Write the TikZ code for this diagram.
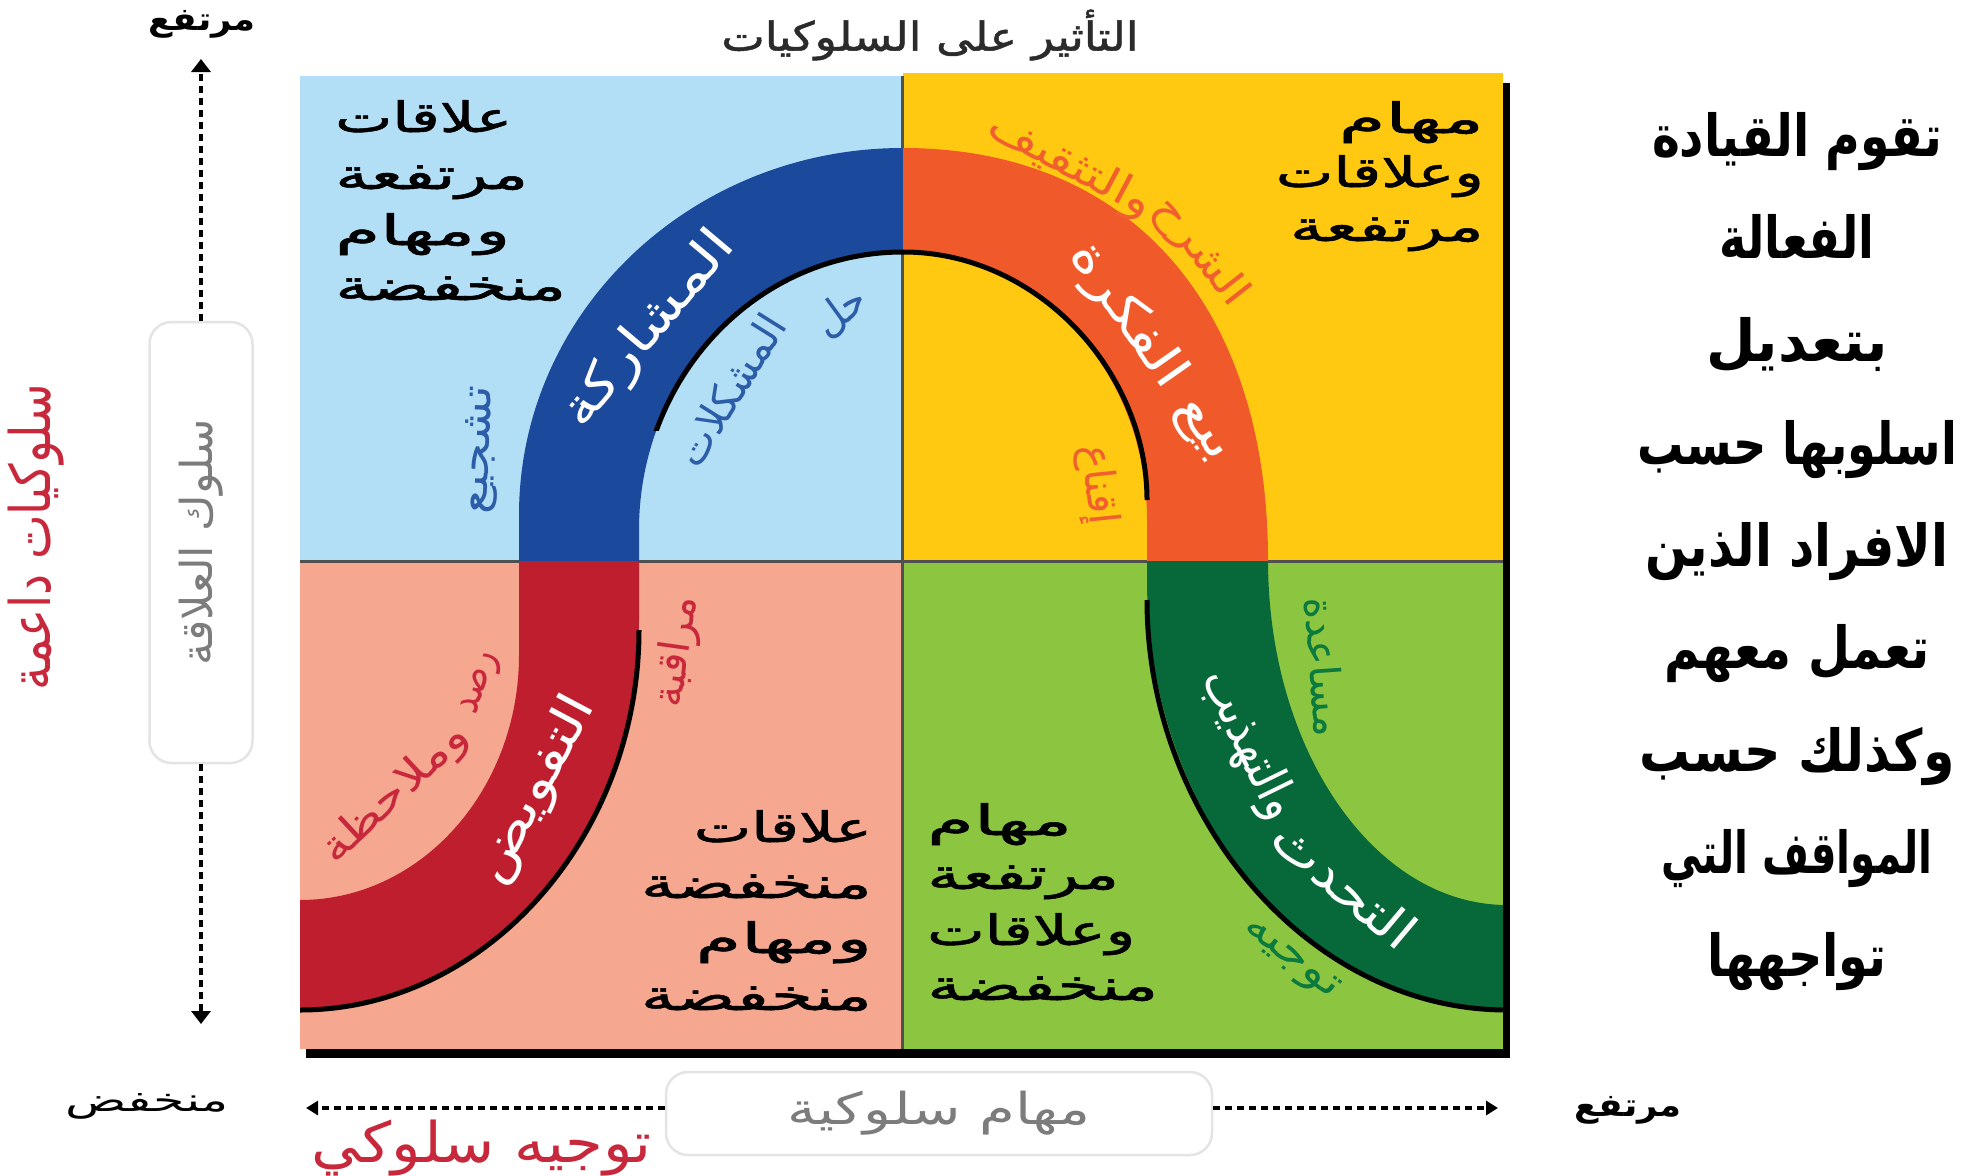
\documentclass[tikz,border=0pt]{standalone}
\usepackage{fontspec}
\usepackage{graphicx}
\usetikzlibrary{arrows.meta}
\TeXXeTstate=1
\newfontfamily\arf[Script=Arabic]{DejaVu Sans}
\newfontfamily\arq[Script=Arabic,FakeBold=1.2]{DejaVu Sans}
\newcommand\fitw[2]{\resizebox{#1}{\height}{#2}}
\definecolor{qblue}{HTML}{B2DEF6}
\definecolor{qyellow}{HTML}{FFC912}
\definecolor{qsalmon}{HTML}{F6A78F}
\definecolor{qgreen}{HTML}{8CC540}
\definecolor{bblue}{HTML}{1B499B}
\definecolor{borange}{HTML}{F05A2B}
\definecolor{bred}{HTML}{BE1E2D}
\definecolor{bgreen}{HTML}{07693A}
\definecolor{tblue}{HTML}{2C5DA9}
\definecolor{torange}{HTML}{F15F2E}
\definecolor{tred}{HTML}{C8283C}
\definecolor{tgreen}{HTML}{0A7A3E}
\definecolor{tgray}{HTML}{7C7C7C}
\definecolor{tdark}{HTML}{2B2B2B}
\definecolor{boxgray}{HTML}{E4E4E4}
\definecolor{divgray}{HTML}{505050}
\begin{document}
\begin{tikzpicture}[x=1pt,y=-1pt,
  qline/.style={inner sep=0pt, font=\arq\fontsize{42}{42}\selectfont, text=black},
  bandtxt/.style={inner sep=0pt, font=\arf\fontsize{50}{50}\selectfont, text=white},
  curvelbl/.style={inner sep=0pt, font=\arf\fontsize{42}{42}\selectfont},
  axlbl/.style={inner sep=0pt, font=\arf\bfseries\fontsize{32}{32}\selectfont, text=black},
  biglbl/.style={inner sep=0pt, font=\arf\fontsize{56}{56}\selectfont, text=tred},
  axbox/.style={draw=boxgray, line width=2.5pt, rounded corners=22pt, fill=white, inner sep=0pt, text=tgray, font=\arf\fontsize{44}{44}\selectfont},
  dashv/.style={line width=3.5pt, dash pattern=on 7pt off 5pt, -{Triangle[width=19pt,length=13pt]}},
  dashh/.style={line width=3.5pt, dash pattern=on 7pt off 5pt, -{Triangle[width=14pt,length=12pt]}},
  innerline/.style={line width=5pt, black},
  divline/.style={line width=3pt, color=divgray},
  rblock/.style={inner sep=0pt, font=\arf\bfseries\fontsize{58}{58}\selectfont, text=black},
]
\useasboundingbox (0,0) rectangle (1977,1175);
\fill[white] (0,0) rectangle (1977,1175);

% shadows
\fill[black] (1503,83) rectangle (1510,1058);
\fill[black] (306,1049) rectangle (1510,1058);

% quadrants
\fill[qblue] (300,76) rectangle (903,561);
\fill[qyellow] (903,73) rectangle (1503,561);
\fill[qsalmon] (300,561) rectangle (903,1049);
\fill[qgreen] (903,561) rectangle (1503,1049);
\draw[divline] (902,76) -- (902,1049);
\draw[divline] (300,561) -- (1503,561);

% band
\foreach \qx/\qy/\qw/\qh/\qc in {300/60/603/501/bblue, 903/60/600/501/borange, 300/561/603/488/bred, 903/561/600/488/bgreen}{
  \begin{scope}
    \clip (\qx,\qy) rectangle ++(\qw,\qh);
    \fill[\qc] (280,900) -- (300,900) .. controls (421,900) and (519,790) .. (519,655)
      -- (519,515) .. controls (519,312) and (691,148) .. (903,148)
      .. controls (1129,148) and (1268,305) .. (1268,560)
      .. controls (1268,751) and (1375,905) .. (1507,905)
      -- (1525,905) -- (1525,1010) -- (1507,1010)
      .. controls (1308,1010) and (1147,817) .. (1147,580)
      -- (1147,520) .. controls (1147,372) and (1038,252) .. (903,252)
      .. controls (757,252) and (639,376) .. (639,530)
      -- (639,620) .. controls (639,835) and (487,1010) .. (300,1010)
      -- (280,1010) -- cycle;
  \end{scope}
}
\begin{scope}
  \clip (300,60) rectangle (1503,1049);
  \draw[innerline] (1507,1010) .. controls (1308,1010) and (1147,817) .. (1147,600);
  \draw[innerline] (1147,500) .. controls (1147,372) and (1038,252) .. (903,252);
  \draw[innerline] (639,630) .. controls (639,835) and (487,1010) .. (300,1010);
\end{scope}
\begin{scope}
  \clip (300,60) rectangle (905,430);
  \draw[innerline] (903,252) .. controls (757,252) and (639,376) .. (639,530);
\end{scope}

% quadrant texts
\node[qline, anchor=base west] (tl1) at (335,132) {\fitw{177pt}{\beginR علاقات\endR}};
\node[qline, anchor=base west] (tl2) at (335,189) {\fitw{193pt}{\beginR مرتفعة\endR}};
\node[qline, anchor=base west] (tl3) at (335,245) {\fitw{175pt}{\beginR ومهام\endR}};
\node[qline, anchor=base west] (tl4) at (335,300) {\fitw{231pt}{\beginR منخفضة\endR}};
\node[qline, anchor=base east] (tr1) at (1484,133) {\fitw{145pt}{\beginR مهام\endR}};
\node[qline, anchor=base east] (tr2) at (1484,187) {\fitw{208pt}{\beginR وعلاقات\endR}};
\node[qline, anchor=base east] (tr3) at (1484,241) {\fitw{194pt}{\beginR مرتفعة\endR}};
\node[qline, anchor=base east] (bl1) at (872,842) {\fitw{178pt}{\beginR علاقات\endR}};
\node[qline, anchor=base east] (bl2) at (872,898) {\fitw{231pt}{\beginR منخفضة\endR}};
\node[qline, anchor=base east] (bl3) at (872,953) {\fitw{176pt}{\beginR ومهام\endR}};
\node[qline, anchor=base east] (bl4) at (872,1010) {\fitw{231pt}{\beginR منخفضة\endR}};
\node[qline, anchor=base west] (br1) at (927,835) {\fitw{145pt}{\beginR مهام\endR}};
\node[qline, anchor=base west] (br2) at (927,889) {\fitw{192pt}{\beginR مرتفعة\endR}};
\node[qline, anchor=base west] (br3) at (927,945) {\fitw{208pt}{\beginR وعلاقات\endR}};
\node[qline, anchor=base west] (br4) at (927,1000) {\fitw{231pt}{\beginR منخفضة\endR}};

% band texts
\node[bandtxt, rotate=50] (s3) at (650,330) {\fitw{240pt}{\beginR المشاركة\endR}};
\node[bandtxt, rotate=-55] (s2) at (1152,352) {\fitw{255pt}{\beginR بيع الفكرة\endR}};
\node[bandtxt, rotate=62] (s4) at (536,790) {\fitw{205pt}{\beginR التفويض\endR}};
\node[bandtxt, rotate=-40] (s1a) at (1345,884) {\fitw{170pt}{\beginR التحدث\endR}};
\node[bandtxt, rotate=-64] (s1b) at (1248,745) {\fitw{160pt}{\beginR والتهذيب\endR}};

% curve labels
\node[curvelbl, text=tblue, rotate=36] (l1a) at (841,312) {\fitw{55pt}{\beginR حل\endR}};
\node[curvelbl, text=tblue, rotate=58] (l1b) at (730,390) {\fitw{170pt}{\beginR المشكلات\endR}};
\node[curvelbl, text=tblue, rotate=88] (l2) at (482,450) {\fitw{128pt}{\beginR تشجيع\endR}};
\node[curvelbl, text=torange, rotate=-28] (l3a) at (1070,166) {\fitw{180pt}{\beginR والتثقيف\endR}};
\node[curvelbl, text=torange, rotate=-52] (l3b) at (1200,252) {\fitw{128pt}{\beginR الشرح\endR}};
\node[curvelbl, text=torange, rotate=-84] (l4) at (1097,485) {\fitw{80pt}{\beginR إقناع\endR}};
\node[curvelbl, text=tred, rotate=72] (l5a) at (482,684) {\fitw{64pt}{\beginR رصد\endR}};
\node[curvelbl, text=tred, rotate=43] (l5b) at (396,794) {\fitw{185pt}{\beginR وملاحظة\endR}};
\node[curvelbl, text=tred, rotate=82] (l6) at (678,652) {\fitw{112pt}{\beginR مراقبة\endR}};
\node[curvelbl, text=tgreen, rotate=-86] (l7) at (1325,667) {\fitw{140pt}{\beginR مساعدة\endR}};
\node[curvelbl, text=tgreen, rotate=-38] (l8) at (1290,960) {\fitw{112pt}{\beginR توجيه\endR}};

% axes
\node[axlbl, font=\arq\fontsize{40}{40}\selectfont, text=tdark] (title) at (930,35) {\fitw{417pt}{\beginR التأثير على السلوكيات\endR}};
\node[axlbl] (yhigh) at (202,24) {\fitw{107pt}{\beginR مرتفع\endR}};
\node[axlbl, font=\arf\fontsize{32}{32}\selectfont] (xlow) at (147,1106) {\fitw{163pt}{\beginR منخفض\endR}};
\node[axlbl] (xhigh) at (1628,1110) {\fitw{107pt}{\beginR مرتفع\endR}};
\node[biglbl] (xlbl) at (482,1148) {\fitw{340pt}{\beginR توجيه سلوكي\endR}};
\node[biglbl, rotate=90] (ylbl) at (36,537) {\fitw{306pt}{\beginR سلوكيات داعمة\endR}};
\node[axbox, rotate=90, minimum width=441pt, minimum height=103pt] (relbox) at (201,542.5) {\fitw{246pt}{\beginR سلوك العلاقة\endR}};
\node[axbox, minimum width=546pt, minimum height=83pt] (taskbox) at (939,1113.5) {\fitw{303pt}{\beginR مهام سلوكية\endR}};
\coordinate (ytop) at (201,59);
\coordinate (ybot) at (201,1024);
\coordinate (xl) at (306,1108);
\coordinate (xr) at (1498,1108);
\draw[dashv] (relbox.east -| ytop) -- (ytop);
\draw[dashv] (relbox.west -| ybot) -- (ybot);
\draw[dashh] (taskbox.west |- xl) -- (xl);
\draw[dashh] (taskbox.east |- xr) -- (xr);

% right block
\node[rblock, anchor=base] (r1) at (1797,156) {\fitw{290pt}{\beginR تقوم القيادة\endR}};
\node[rblock, anchor=base] (r2) at (1797,258) {\fitw{155pt}{\beginR الفعالة\endR}};
\node[rblock, anchor=base] (r3) at (1797,361) {\fitw{182pt}{\beginR بتعديل\endR}};
\node[rblock, anchor=base] (r4) at (1797,464) {\fitw{320pt}{\beginR اسلوبها حسب\endR}};
\node[rblock, anchor=base] (r5) at (1797,566) {\fitw{303pt}{\beginR الافراد الذين\endR}};
\node[rblock, anchor=base] (r6) at (1797,668) {\fitw{265pt}{\beginR تعمل معهم\endR}};
\node[rblock, anchor=base] (r7) at (1797,771) {\fitw{315pt}{\beginR وكذلك حسب\endR}};
\node[rblock, anchor=base] (r8) at (1797,873) {\fitw{271pt}{\beginR المواقف التي\endR}};
\node[rblock, anchor=base] (r9) at (1797,976) {\fitw{179pt}{\beginR تواجهها\endR}};
\end{tikzpicture}
\end{document}
